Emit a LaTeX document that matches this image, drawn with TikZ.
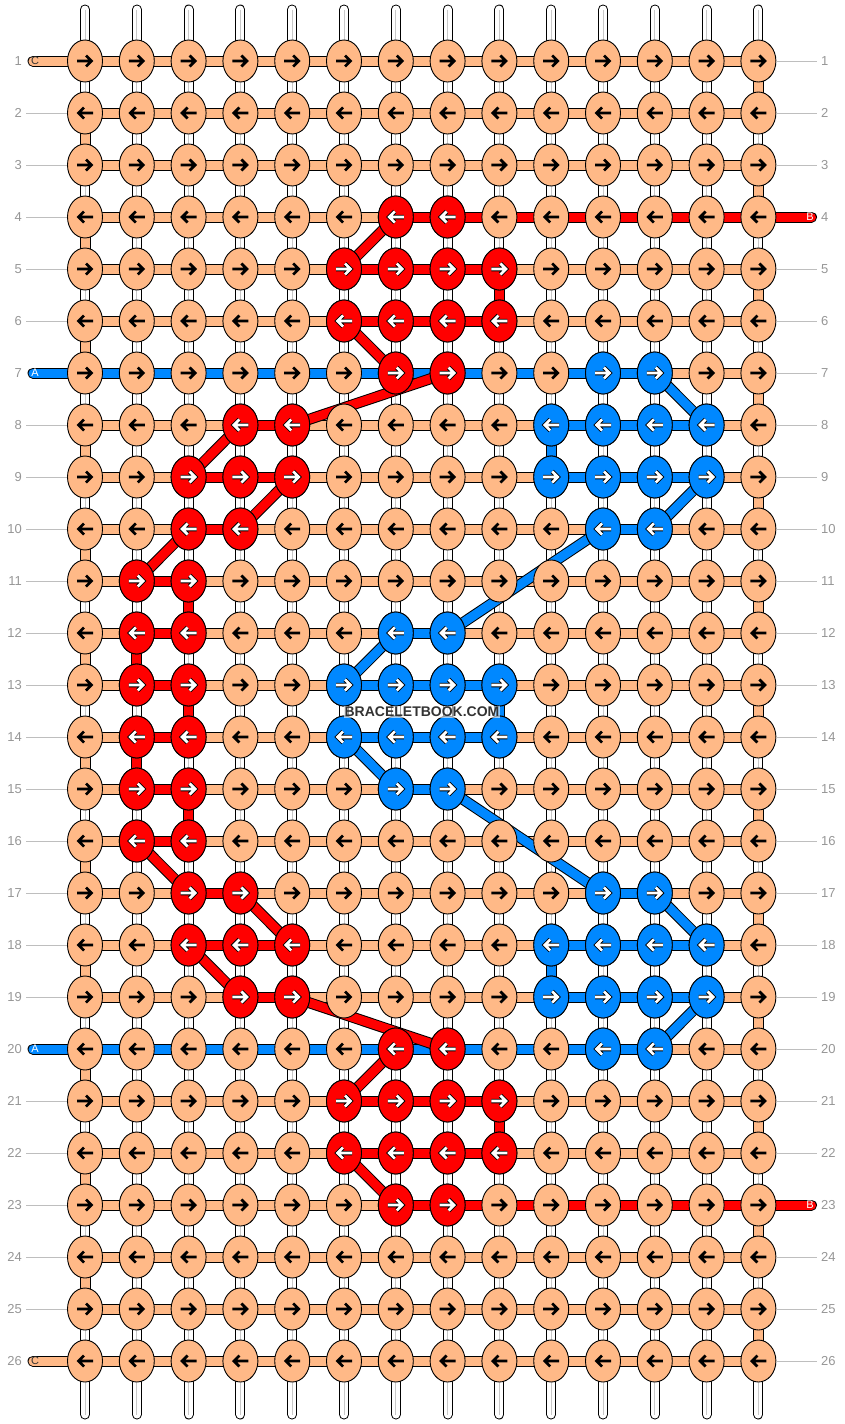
\documentclass[tikz,border=0pt]{standalone}
\usepackage{fontspec}
\setmainfont{Liberation Sans}
\usetikzlibrary{shapes.geometric}

\definecolor{peach}{RGB}{255,185,135}
\definecolor{stringred}{RGB}{255,0,0}
\definecolor{stringblue}{RGB}{0,136,255}
\definecolor{labelgray}{RGB}{150,150,150}
\definecolor{linegray}{RGB}{190,190,190}
\definecolor{warpgray}{RGB}{200,200,200}
\definecolor{markgray}{RGB}{51,51,51}

\tikzset{
  warp/.style={double=white, double distance=8pt, line width=1pt, line cap=round},
  warpline/.style={draw=warpgray, line width=0.9pt},
  strand/.style={double=#1, double distance=9pt, line width=1pt},
  knotnode/.style={ellipse, draw=black, line width=0.9pt, minimum width=35pt, minimum height=42pt, inner sep=0pt},
  arr/.style={line width=2.7pt, line join=miter},
  rowlabel/.style={text=labelgray, font=\fontsize{13}{13}\selectfont, inner sep=0pt},
  rowline/.style={draw=linegray, line width=0.9pt},
  endlabel/.style={font=\fontsize{11}{11}\selectfont, inner sep=0pt}
}

% arrow in a knot: odd rows point right, even rows left
\newcommand{\knotmark}[3]{%
  \ifodd#1\relax\def\arrdir{1}\else\def\arrdir{-1}\fi
  \draw[arr, #3, shift={(n-#1-#2.center)}, xscale=\arrdir] (-8,0) -- (6.5,0) (1,-5.5) -- (6.5,0) -- (1,5.5);}

\begin{document}
\begin{tikzpicture}[x=1pt, y=-1pt]
    \useasboundingbox (0,0) rectangle (844,1424);

    \foreach \r in {1,...,26}
      \foreach \c in {1,...,14}
        \coordinate (k-\r-\c) at ({85+(\c-1)*51.8}, {61+(\r-1)*52});

    % warp strings
    \foreach \c in {1,...,14} {
      \coordinate (wt-\c) at ({85+(\c-1)*51.8}, 9.5);
      \coordinate (wb-\c) at ({85+(\c-1)*51.8}, 1414.5);
      \draw[warp] (wt-\c) -- (wb-\c);
      \draw[warpline] (wt-\c) -- (wb-\c);
    }

    % turns at the edges
    \foreach \r [evaluate=\r as \s using int(\r+1)] in {1,3,...,25}
      \draw[strand=peach] (k-\r-14) -- (k-\s-14);
    \foreach \r [evaluate=\r as \s using int(\r+1)] in {2,4,...,24}
      \draw[strand=peach] (k-\r-1) -- (k-\s-1);
    \foreach \c/\r/\s/\col in {9/5/6/stringred, 3/11/12/stringred, 2/12/13/stringred,
        3/13/14/stringred, 2/14/15/stringred, 3/15/16/stringred, 9/21/22/stringred,
        10/8/9/stringblue, 9/13/14/stringblue, 10/18/19/stringblue}
      \draw[strand=\col] (k-\r-\c) -- (k-\s-\c);

    % rows
    \foreach \r in {1,...,26}
      \draw[strand=peach] (k-\r-1) -- (k-\r-14);
    \foreach \r/\a/\b/\col in {4/7/14/stringred, 5/6/9/stringred, 6/6/9/stringred,
        7/1/12/stringblue, 8/4/5/stringred, 8/10/13/stringblue, 9/3/5/stringred,
        9/10/13/stringblue, 10/3/4/stringred, 10/11/12/stringblue, 11/2/3/stringred,
        12/2/3/stringred, 12/7/8/stringblue, 13/2/3/stringred, 13/6/9/stringblue,
        14/2/3/stringred, 14/6/9/stringblue, 15/2/3/stringred, 15/7/8/stringblue,
        16/2/3/stringred, 17/3/4/stringred, 17/11/12/stringblue, 18/3/5/stringred,
        18/10/13/stringblue, 19/4/5/stringred, 19/10/13/stringblue, 20/1/12/stringblue,
        21/6/9/stringred, 22/6/9/stringred, 23/7/14/stringred}
      \draw[strand=\col] (k-\r-\a) -- (k-\r-\b);

    % loose ends
    \foreach \r/\c/\x/\dx/\col/\txt/\tcol in {1/1/33/2/peach/C/markgray,
        7/1/33/2/stringblue/A/white, 20/1/33/2/stringblue/A/white,
        26/1/33/2/peach/C/markgray, 4/14/811.5/-1.5/stringred/B/white,
        23/14/811.5/-1.5/stringred/B/white} {
      \coordinate (e-\r) at (\x, {61+(\r-1)*52});
      \draw[strand=\col, line cap=round] (k-\r-\c) -- (e-\r);
      \node[endlabel, text=\tcol] at ([xshift=\dx pt]e-\r) {\txt};
    }

    % diagonals
    \foreach \a/\b/\col in {4-7/5-6/stringred, 6-6/7-7/stringred, 7-8/8-5/stringred,
        8-4/9-3/stringred, 9-5/10-4/stringred, 10-3/11-2/stringred, 16-2/17-3/stringred,
        17-4/18-5/stringred, 18-3/19-4/stringred, 19-5/20-8/stringred,
        20-7/21-6/stringred, 22-6/23-7/stringred,
        7-12/8-13/stringblue, 9-13/10-12/stringblue, 10-11/12-8/stringblue,
        12-7/13-6/stringblue, 14-6/15-7/stringblue, 15-8/17-11/stringblue,
        17-12/18-13/stringblue, 19-13/20-12/stringblue}
      \draw[strand=\col] (k-\a) -- (k-\b);

    % knots
    \foreach \r in {1,...,26}
      \foreach \c in {1,...,14} {
        \node[knotnode, fill=peach] (n-\r-\c) at (k-\r-\c) {};
        \knotmark{\r}{\c}{black}
      }
    \foreach \r/\a/\b/\col in {4/7/8/stringred, 5/6/9/stringred, 6/6/9/stringred,
        7/7/8/stringred, 7/11/12/stringblue, 8/4/5/stringred, 8/10/13/stringblue,
        9/3/5/stringred, 9/10/13/stringblue, 10/3/4/stringred, 10/11/12/stringblue,
        11/2/3/stringred, 12/2/3/stringred, 12/7/8/stringblue, 13/2/3/stringred,
        13/6/9/stringblue, 14/2/3/stringred, 14/6/9/stringblue, 15/2/3/stringred,
        15/7/8/stringblue, 16/2/3/stringred, 17/3/4/stringred, 17/11/12/stringblue,
        18/3/5/stringred, 18/10/13/stringblue, 19/4/5/stringred, 19/10/13/stringblue,
        20/7/8/stringred, 20/11/12/stringblue, 21/6/9/stringred, 22/6/9/stringred,
        23/7/8/stringred}
      \foreach \c in {\a,...,\b} {
        \node[knotnode, fill=\col] (n-\r-\c) at (k-\r-\c) {};
        \knotmark{\r}{\c}{black, line width=4.5pt}
        \knotmark{\r}{\c}{white}
      }

    % row numbers
    \foreach \r in {1,...,26} {
      \node[rowlabel, anchor=east] (ll-\r) at (22, {61+(\r-1)*52}) {\r};
      \node[rowlabel, anchor=west] (lr-\r) at (821, {61+(\r-1)*52}) {\r};
    }
    \foreach \r in {2,3,...,6,8,9,...,19,21,22,...,25}
      \draw[rowline] ([xshift=4pt]ll-\r.east) -- (n-\r-1.west);
    \foreach \r in {1,2,3,5,6,...,22,24,25,26}
      \draw[rowline] (n-\r-14.east) -- ([xshift=-4pt]lr-\r.west);

    \node[fill=white, fill opacity=0.6, text opacity=1, text=markgray, inner sep=1pt,
      font=\bfseries\fontsize{14}{14}\selectfont] (mark) at (422,712) {BRACELETBOOK.COM};
\end{tikzpicture}
\end{document}
